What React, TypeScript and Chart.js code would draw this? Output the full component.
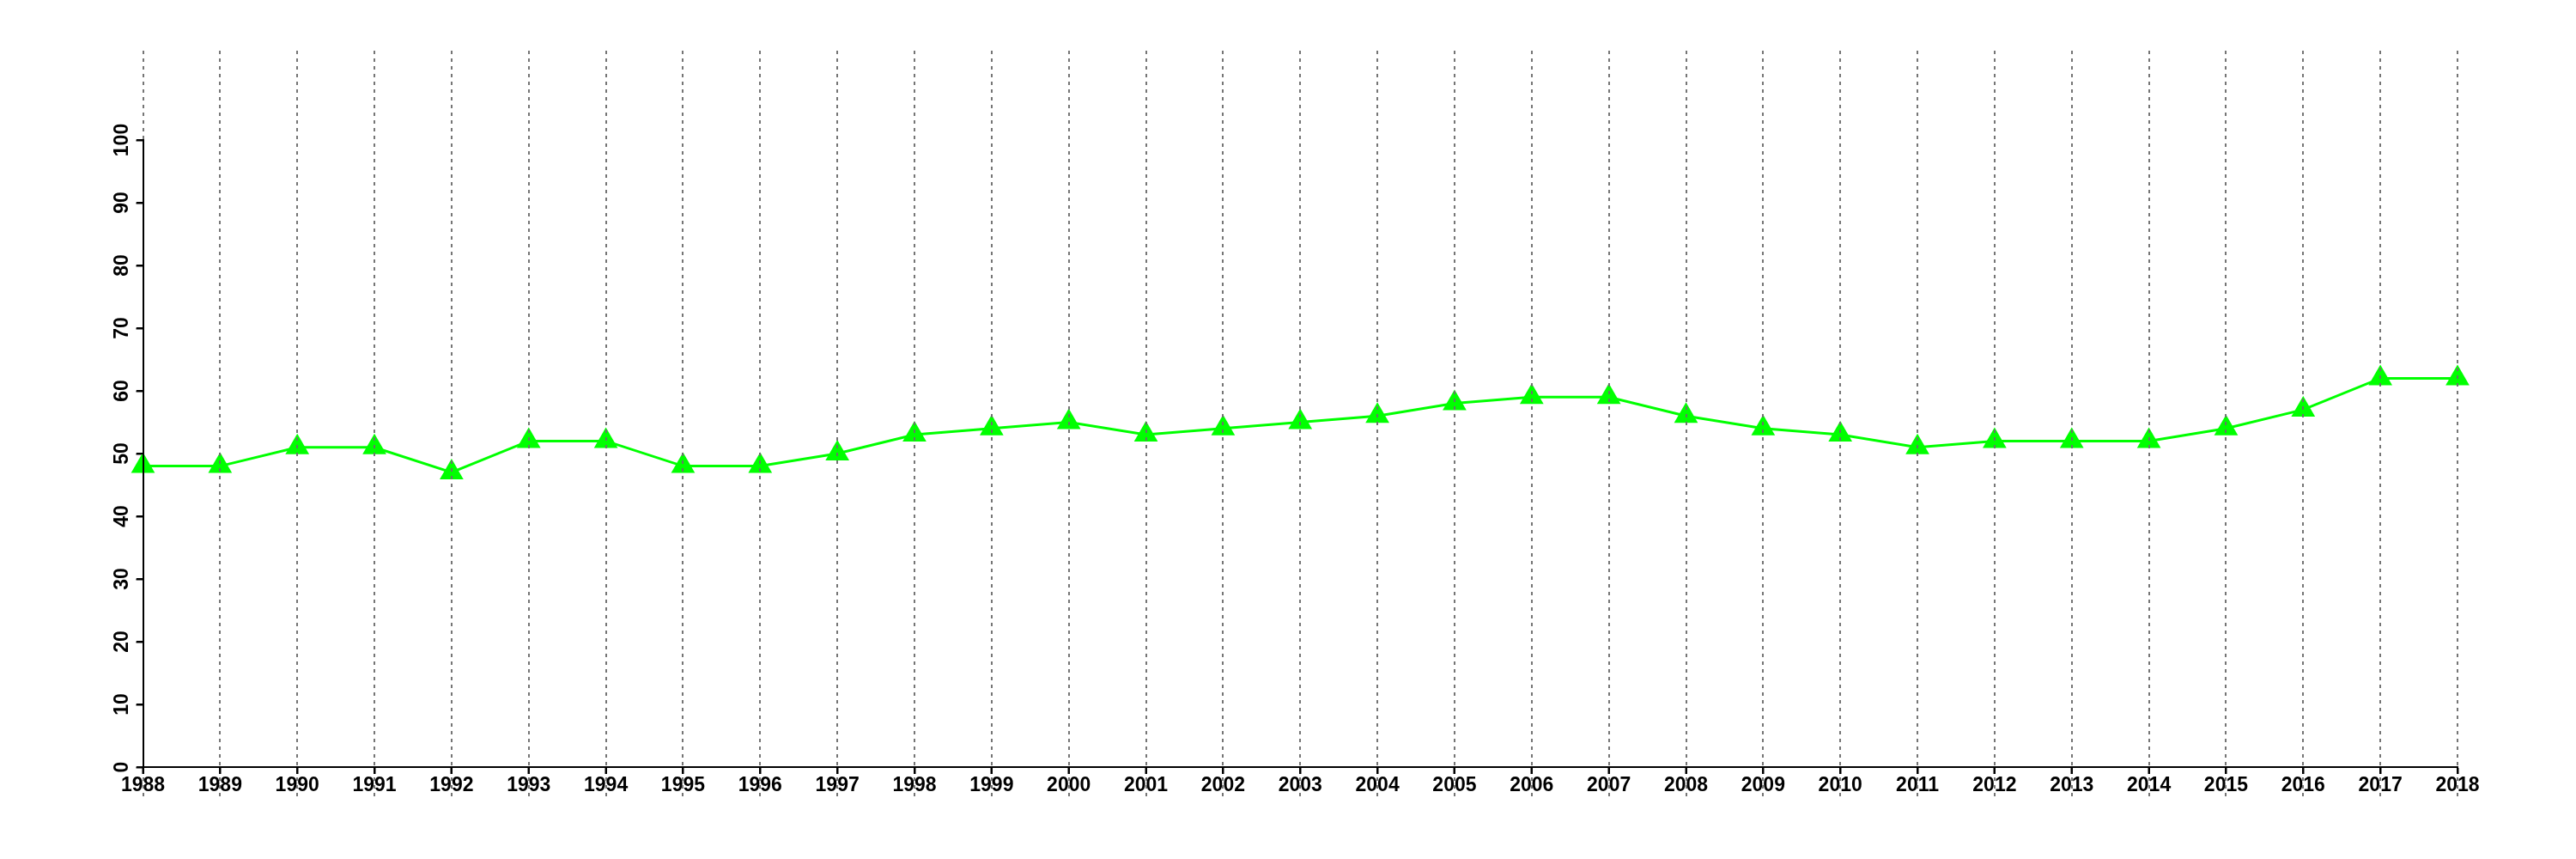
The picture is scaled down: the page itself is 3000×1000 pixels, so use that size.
import React, { useEffect, useRef } from "react";
import { Chart, registerables } from "chart.js";

Chart.register(...registerables);

const years = [
  "1988", "1989", "1990", "1991", "1992", "1993", "1994", "1995", "1996", "1997",
  "1998", "1999", "2000", "2001", "2002", "2003", "2004", "2005", "2006", "2007",
  "2008", "2009", "2010", "2011", "2012", "2013", "2014", "2015", "2016", "2017", "2018",
];
const values = [
  48, 48, 51, 51, 47, 52, 52, 48, 48, 50,
  53, 54, 55, 53, 54, 55, 56, 58, 59, 59,
  56, 54, 53, 51, 52, 52, 52, 54, 57, 62, 62,
];
const yTicks = [0, 10, 20, 30, 40, 50, 60, 70, 80, 90, 100];

const FONT = '"Liberation Sans", Arial, Helvetica, sans-serif';

const overlayPlugin = {
  id: "overlay",
  afterDraw(chart: any) {
    const ctx = chart.ctx;
    const xs = chart.scales.x;
    const ys = chart.scales.y;
    // y labels rotated
    ctx.save();
    ctx.fillStyle = "#000";
    ctx.font = `bold 23px ${FONT}`;
    ctx.textAlign = "center";
    ctx.textBaseline = "middle";
    yTicks.forEach((v) => {
      const y = ys.getPixelForValue(v);
      ctx.save();
      ctx.translate(143, y);
      ctx.rotate(-Math.PI / 2);
      ctx.fillText(String(v), 0, 0);
      ctx.restore();
    });
    ctx.restore();
    // dotted vertical gridlines, drawn on top
    ctx.save();
    ctx.strokeStyle = "rgba(110,110,110,0.95)";
    ctx.lineWidth = 2;
    ctx.setLineDash([4, 5]);
    years.forEach((_, i) => {
      const x = Math.round(xs.getPixelForValue(i));
      ctx.beginPath();
      ctx.moveTo(x, 59);
      ctx.lineTo(x, 928);
      ctx.stroke();
    });
    ctx.restore();
    // redraw axes and ticks solid black on top
    const x0 = Math.round(xs.getPixelForValue(0));
    const x1 = Math.round(xs.getPixelForValue(years.length - 1));
    const yb = ys.getPixelForValue(0);
    const yt = ys.getPixelForValue(100);
    ctx.save();
    ctx.strokeStyle = "#000";
    ctx.lineWidth = 2;
    ctx.setLineDash([]);
    ctx.beginPath();
    ctx.moveTo(x0, yt - 1);
    ctx.lineTo(x0, yb + 1);
    ctx.moveTo(x0 - 1, yb);
    ctx.lineTo(x1 + 1, yb);
    years.forEach((_, i) => {
      const x = Math.round(xs.getPixelForValue(i));
      ctx.moveTo(x, yb);
      ctx.lineTo(x, yb + 8);
    });
    yTicks.forEach((v) => {
      const y = ys.getPixelForValue(v);
      ctx.moveTo(x0, y);
      ctx.lineTo(x0 - 8, y);
    });
    ctx.stroke();
    ctx.restore();
  },
};

export default function App() {
  const ref = useRef<HTMLCanvasElement | null>(null);
  useEffect(() => {
    if (!ref.current) return;
    const chart = new Chart(ref.current, {
      type: "line",
      data: {
        labels: years,
        datasets: [
          {
            data: values,
            borderColor: "#00ff00",
            backgroundColor: "#00ff00",
            borderWidth: 3,
            pointStyle: "triangle",
            pointRadius: 16,
            pointBorderWidth: 0,
            pointBackgroundColor: "#00ff00",
            pointBorderColor: "#00ff00",
            tension: 0,
            clip: false as any,
          },
        ],
      },
      options: {
        responsive: false,
        animation: false,
        devicePixelRatio: 1,
        layout: { padding: { left: 0, top: 163, right: 138, bottom: 0 } },
        plugins: {
          legend: { display: false },
          tooltip: { enabled: false },
          title: { display: false },
        },
        scales: {
          x: {
            type: "category",
            offset: false,
            afterFit: (s: any) => {
              s.height = 107;
            },
            border: { display: true, color: "#000", width: 2 },
            grid: {
              drawOnChartArea: false,
              drawTicks: true,
              tickLength: 8,
              tickColor: "#000",
              tickWidth: 2,
            },
            ticks: {
              autoSkip: false,
              maxRotation: 0,
              minRotation: 0,
              padding: 0,
              color: "#000",
              font: { family: FONT, size: 23, weight: "bold" },
            },
          },
          y: {
            min: 0,
            max: 100,
            afterFit: (s: any) => {
              s.width = 166.5;
            },
            border: { display: true, color: "#000", width: 2 },
            grid: {
              drawOnChartArea: false,
              drawTicks: true,
              tickLength: 8,
              tickColor: "#000",
              tickWidth: 2,
            },
            ticks: {
              stepSize: 10,
              display: false,
            },
          },
        },
      },
      plugins: [overlayPlugin],
    });
    return () => chart.destroy();
  }, []);
  return (
    <div style={{ position: "fixed", left: 0, top: 0, width: 3000, height: 1000, background: "#fff" }}>
      <canvas ref={ref} width={3000} height={1000} style={{ width: 3000, height: 1000, display: "block" }} />
    </div>
  );
}
